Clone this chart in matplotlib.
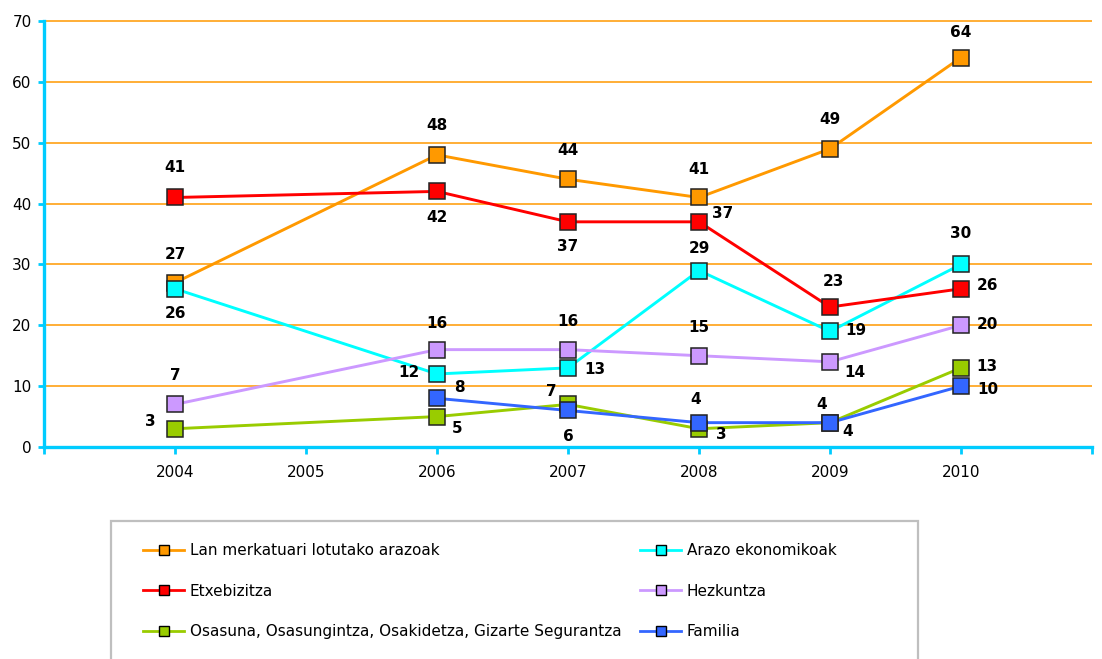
import matplotlib
matplotlib.use('Agg')
import matplotlib.pyplot as plt
from matplotlib.patches import Rectangle

years = ['2004', '2005', '2006', '2007', '2008', '2009', '2010']

names = ['Lan merkatuari lotutako arazoak', 'Arazo ekonomikoak', 'Etxebizitza',
         'Hezkuntza', 'Osasuna, Osasungintza, Osakidetza, Gizarte Segurantza', 'Familia']

# no survey data for 2005
lan = [27, None, 48, 44, 41, 49, 64]
arazo = [26, None, 12, 13, 29, 19, 30]
etxe = [41, None, 42, 37, 37, 23, 26]
hezk = [7, None, 16, 16, 15, 14, 20]
osasuna = [3, None, 5, 7, 3, 4, 13]
familia = [None, None, 8, 6, 4, 4, 10]

colors = ['#FF9900', '#00FFFF', '#FF0000', '#CC99FF', '#99CC00', '#3366FF']

# label offsets in pixels (dx right, dy down) per point
offsets = [
    [(0, -28), None, (0, -29), (0, -29), (0, -28), (0, -29), (0, -25)],
    [(0, 25), None, (-28, -1), (27, 2), (0, -22), (26, -1), (0, -31)],
    [(0, -30), None, (0, 26), (0, 25), (24, -8), (3, -26), (27, -3)],
    [(0, -29), None, (0, -26), (0, -28), (0, -28), (25, 11), (26, -1)],
    [(-25, -7), None, (20, 12), (-17, -13), (22, 6), (-8, -18), (26, -1)],
    [None, None, (22, -11), (0, 26), (-3, -23), (18, 9), (27, 3)],
]

axis_col = '#00CCFF'

fig = plt.figure(figsize=(11.02, 6.59), dpi=100)
ax = fig.add_axes([44 / 1102, 1 - 447 / 659, (1092 - 44) / 1102, (447 - 19) / 659])

handles = []
for vals, col, offs, name in zip([lan, arazo, etxe, hezk, osasuna, familia], colors, offsets, names):
    xs = [i for i, v in enumerate(vals) if v is not None]
    ys = [v for v in vals if v is not None]
    ax.plot(xs, ys, color=col, lw=2.1, zorder=3)
    ax.plot(xs, ys, ls='none', marker='s', ms=11.2, mfc=col, mec='#222222', mew=1.1, zorder=4)
    for x, y in zip(xs, ys):
        dx, dy = offs[x]
        ax.annotate(str(y), (x, y), xytext=(dx * 0.72, -dy * 0.72), textcoords='offset points',
                    ha='center', va='center', fontsize=11, fontweight='bold', color='black',
                    zorder=5)
    h, = ax.plot([], [], color=col, lw=2, marker='s', ms=6.5, mfc=col, mec='black', mew=1)
    handles.append((h, name))

ax.set_xlim(-1, 7)
ax.set_ylim(0, 70 * 428 / 426)
ax.set_xticks(range(-1, 8))
ax.set_xticklabels([''] + years + [''])
ax.set_yticks(range(0, 71, 10))

ax.yaxis.grid(True, color='#FF9900', lw=1.1)
ax.set_axisbelow(True)

for s in ['top', 'right']:
    ax.spines[s].set_visible(False)
for s in ['left', 'bottom']:
    ax.spines[s].set_color(axis_col)
    ax.spines[s].set_linewidth(2.4)
ax.spines['left'].set_bounds(0, 70)

ax.tick_params(axis='x', colors=axis_col, labelcolor='black', length=5, width=2,
               labelsize=11, pad=8)
ax.tick_params(axis='y', colors=axis_col, labelcolor='black', length=4, width=2,
               labelsize=11, pad=5)

# legend box
fig.patches.append(Rectangle((111 / 1102, -0.05), (918 - 111) / 1102, 0.05 + 1 - 521 / 659,
                             transform=fig.transFigure, fill=False, ec='#BFBFBF', lw=1.6))

col1 = [handles[0], handles[2], handles[4]]
col2 = [handles[1], handles[3], handles[5]]
for entries, x0 in [(col1, 143), (col2, 640)]:
    fig.legend([e[0] for e in entries], [e[1] for e in entries], loc='upper left',
               bbox_to_anchor=(x0 / 1102, 1 - 543 / 659), frameon=False, fontsize=11,
               borderpad=0, borderaxespad=0, handlelength=2.7, handletextpad=0.35,
               labelspacing=1.68)

fig.savefig('out.png', dpi=100)
